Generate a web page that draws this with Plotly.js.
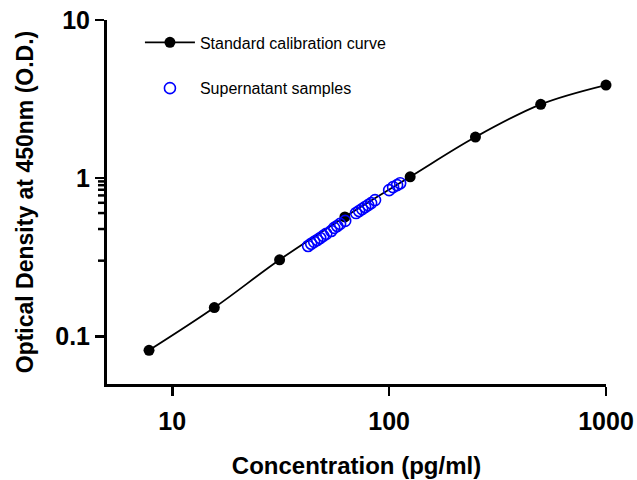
<!DOCTYPE html>
<html>
<head>
<meta charset="utf-8">
<script src="https://cdn.plot.ly/plotly-3.0.1.min.js"></script>
<style>html,body{margin:0;padding:0;background:#fff;}#chart{width:637px;height:480px;}</style>
</head>
<body>
<div id="chart"></div>
<script>
const stdConc = [7.8125, 15.625, 31.25, 62.5, 125, 250, 500, 1000];
const stdOD = [0.0816, 0.152, 0.305, 0.569, 1.02, 1.82, 2.93, 3.88];
const sampleConc = [42.3, 43.7, 45.1, 46.6, 48.1, 49.7, 51.3, 54.1, 55.8, 57.6, 59.4, 62.7, 70.4, 72.7, 75.1, 77.5, 80.0, 82.6, 86.1, 100, 104.3, 108.8, 112.4];
const sampleOD = [0.373, 0.385, 0.396, 0.407, 0.419, 0.432, 0.445, 0.464, 0.485, 0.499, 0.514, 0.537, 0.602, 0.620, 0.638, 0.657, 0.676, 0.696, 0.727, 0.840, 0.878, 0.904, 0.930];
const xMinor = [5, 6, 7, 8, 9, 20, 30, 40, 50, 60, 70, 80, 90, 200, 300, 400, 500, 600, 700, 800, 900];
const yMinor = [0.05, 0.06, 0.07, 0.08, 0.09, 0.2, 0.3, 0.4, 0.5, 0.6, 0.7, 0.8, 0.9, 2, 3, 4, 5, 6, 7, 8, 9];

const traces = [
  {x: stdConc, y: stdOD, mode: 'lines+markers', name: 'Standard calibration curve',
   line: {shape: 'spline', color: '#000', width: 1.8},
   marker: {color: '#000', size: 11}, cliponaxis: false, legendgroup: 'a'},
  {x: sampleConc, y: sampleOD, mode: 'markers', name: 'Supernatant samples',
   marker: {symbol: 'circle-open', color: '#0000ff', size: 11, line: {width: 1.6, color: '#0000ff'}},
   cliponaxis: false, legendgroup: 'b'}
];

const FONT = 'Liberation Sans, Arial, sans-serif';
const axisCommon = {
  type: 'log', showgrid: false, zeroline: false, showline: true, linecolor: '#000', linewidth: 3,
  ticks: 'outside', ticklen: 9, tickwidth: 2.5, tickcolor: '#000',
  tickmode: 'linear', tick0: 0, dtick: 1, exponentformat: 'none',
  tickfont: {family: FONT, size: 25, color: '#000', weight: 'bold'}
};

// Minor ticks as shapes; shape coordinates on log axes are given in log10 units
const minorShapes = xMinor.map(v => ({
  type: 'line', xref: 'x', yref: 'paper', ysizemode: 'pixel', yanchor: 0,
  x0: Math.log10(v), x1: Math.log10(v), y0: 0, y1: -9,
  line: {color: '#000', width: 2.5}, layer: 'above'
})).concat(yMinor.map(v => ({
  type: 'line', yref: 'y', xref: 'paper', xsizemode: 'pixel', xanchor: 0,
  y0: Math.log10(v), y1: Math.log10(v), x0: 0, x1: -9,
  line: {color: '#000', width: 2.5}, layer: 'above'
})));

const layout = {
  width: 637, height: 480,
  margin: {l: 107, r: 31, t: 20, b: 96},
  paper_bgcolor: '#fff', plot_bgcolor: '#fff',
  showlegend: true,
  legend: {x: 0.066, y: 0.985, xanchor: 'left', yanchor: 'top', bgcolor: 'rgba(0,0,0,0)',
    font: {family: FONT, size: 16, color: '#000'},
    tracegroupgap: 22, itemwidth: 50},
  xaxis: Object.assign({}, axisCommon, {
    range: [Math.log10(5), 3], ticklabelstandoff: 4,
    title: {text: 'Concentration (pg/ml)', standoff: 24,
      font: {family: FONT, size: 24, color: '#000', weight: 'bold'}}
  }),
  yaxis: Object.assign({}, axisCommon, {
    range: [Math.log10(0.05), 1],
    title: {text: 'Optical Density at 450nm (O.D.)', standoff: 16,
      font: {family: FONT, size: 23, color: '#000', weight: 'bold'}}
  }),
  shapes: minorShapes
};

Plotly.newPlot('chart', traces, layout, {displayModeBar: false, staticPlot: true});
</script>
</body>
</html>
